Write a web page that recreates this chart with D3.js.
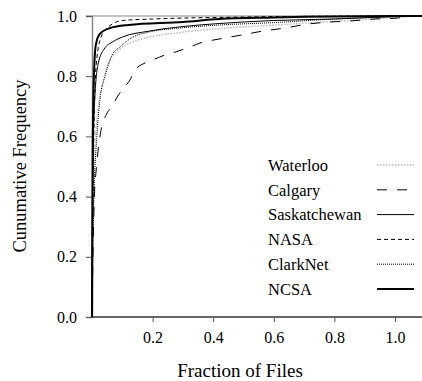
<!DOCTYPE html>
<html><head><meta charset="utf-8">
<script src="https://cdn.jsdelivr.net/npm/d3@7"></script>
<style>body{margin:0;background:#fff}svg{display:block}</style>
</head><body><svg id="c" width="422" height="381"></svg>
<script>
// Data (fraction of files, cumulative frequency)
const seriesNames = ["Waterloo","Calgary","Saskatchewan","NASA","ClarkNet","NCSA"];
const waterloo = [[0,0],[0.002,0.2],[0.005,0.4],[0.012,0.6],[0.02,0.69],[0.036,0.78],[0.059,0.85],[0.092,0.89],[0.13,0.912],[0.18,0.928],[0.29,0.945],[0.42,0.958],[0.6,0.97],[0.8,0.982],[1.0,0.995],[1.09,1.0]];
const calgary = [[0,0],[0.003,0.2],[0.008,0.4],[0.015,0.5],[0.026,0.598],[0.05,0.678],[0.066,0.698],[0.083,0.731],[0.099,0.754],[0.125,0.787],[0.142,0.82],[0.175,0.844],[0.2,0.854],[0.24,0.87],[0.274,0.88],[0.323,0.897],[0.356,0.91],[0.422,0.924],[0.495,0.937],[0.564,0.95],[0.637,0.96],[0.71,0.973],[0.785,0.98],[0.858,0.984],[0.934,0.99],[1.007,0.993],[1.05,1.0],[1.09,1.0]];
const saskatchewan = [[0,0],[0.001,0.25],[0.003,0.5],[0.008,0.7],[0.02,0.84],[0.04,0.89],[0.07,0.915],[0.1,0.93],[0.19,0.95],[0.3,0.965],[0.42,0.975],[0.6,0.985],[0.8,0.99],[1.0,0.998],[1.09,1.0]];
const nasa = [[0,0],[0.001,0.2],[0.003,0.4],[0.008,0.7],[0.015,0.85],[0.03,0.93],[0.05,0.96],[0.1,0.985],[0.2,0.99],[0.4,0.995],[1.0,1.0],[1.09,1.0]];
const clarknet = [[0,0],[0.002,0.2],[0.005,0.35],[0.016,0.6],[0.026,0.72],[0.043,0.8],[0.066,0.87],[0.092,0.897],[0.135,0.93],[0.18,0.945],[0.29,0.96],[0.42,0.97],[0.6,0.978],[0.8,0.99],[1.0,0.998],[1.09,1.0]];
const ncsa = [[0,0],[0.001,0.3],[0.002,0.5],[0.005,0.75],[0.012,0.9],[0.025,0.94],[0.06,0.96],[0.12,0.97],[0.3,0.98],[0.42,0.99],[0.6,0.995],[1.0,1.0],[1.09,1.0]];
const xTicks = [0.2,0.4,0.6,0.8,1.0];
const yTicks = [0.0,0.2,0.4,0.6,0.8,1.0];

const FONT = "Liberation Serif";
const seriesData = [waterloo, calgary, saskatchewan, nasa, clarknet, ncsa];
const styles = [
  {stroke:"#b8b8b8", width:1.4, dash:"1.5,1.5"},
  {stroke:"#000", width:1, dash:"10,10"},
  {stroke:"#000", width:1, dash:null},
  {stroke:"#000", width:1, dash:"4,3"},
  {stroke:"#000", width:1, dash:"1,1"},
  {stroke:"#000", width:2, dash:null}
];

const svg = d3.select("#c");
const x = d3.scaleLinear().domain([0,1]).range([92,395]);
const y = d3.scaleLinear().domain([0,1]).range([317,16]);
const xMax = x.invert(422);

// gridline at 1.0
svg.append("line").attr("x1",86).attr("x2",422).attr("y1",y(1)).attr("y2",y(1)).attr("stroke","#888").attr("stroke-width",1.2);

// axes
const yAxis = d3.axisLeft(y).tickValues(yTicks).tickFormat(d3.format(".1f")).tickSize(6).tickPadding(9);
const gy = svg.append("g").attr("transform","translate(92,0)").call(yAxis).attr("font-family",FONT).attr("font-size",16);
gy.select(".domain").attr("stroke","#888").attr("stroke-width",1.5);
gy.selectAll(".tick line").attr("stroke","#555");

const xAxis = d3.axisBottom(x).tickValues(xTicks).tickFormat(d3.format(".1f")).tickSize(5).tickPadding(10);
const gx = svg.append("g").attr("transform","translate(0,317)").call(xAxis).attr("font-family",FONT).attr("font-size",16);
gx.select(".domain").attr("d",`M92,0H422`).attr("stroke","#333").attr("stroke-width",1.5);
gx.selectAll(".tick line").attr("stroke","#555");

// curves
const line = d3.line().x(d=>x(Math.min(d[0],xMax))).y(d=>y(d[1])).curve(d3.curveMonotoneX);
seriesData.forEach((s,i)=>{
  svg.append("path").datum(s).attr("d",line).attr("fill","none")
    .attr("stroke",styles[i].stroke).attr("stroke-width",styles[i].width)
    .attr("stroke-dasharray",styles[i].dash);
});

// legend
const legY = d3.scalePoint().domain(seriesNames).range([165,289]);
seriesNames.forEach((n,i)=>{
  svg.append("text").attr("x",268).attr("y",legY(n)).attr("dy","0.35em")
    .attr("font-family",FONT).attr("font-size",16.5).text(n);
  svg.append("line").attr("x1",377).attr("x2",414).attr("y1",legY(n)).attr("y2",legY(n))
    .attr("stroke",styles[i].stroke).attr("stroke-width",styles[i].width).attr("stroke-dasharray",styles[i].dash);
});

// titles
svg.append("text").attr("x",240).attr("y",370).attr("dy","0.35em").attr("text-anchor","middle")
  .attr("font-family",FONT).attr("font-size",19).text("Fraction of Files");
svg.append("text").attr("transform","translate(20,166) rotate(-90)").attr("dy","0.35em").attr("text-anchor","middle")
  .attr("font-family",FONT).attr("font-size",18.5).text("Cunumative Frequency");
</script></body></html>
